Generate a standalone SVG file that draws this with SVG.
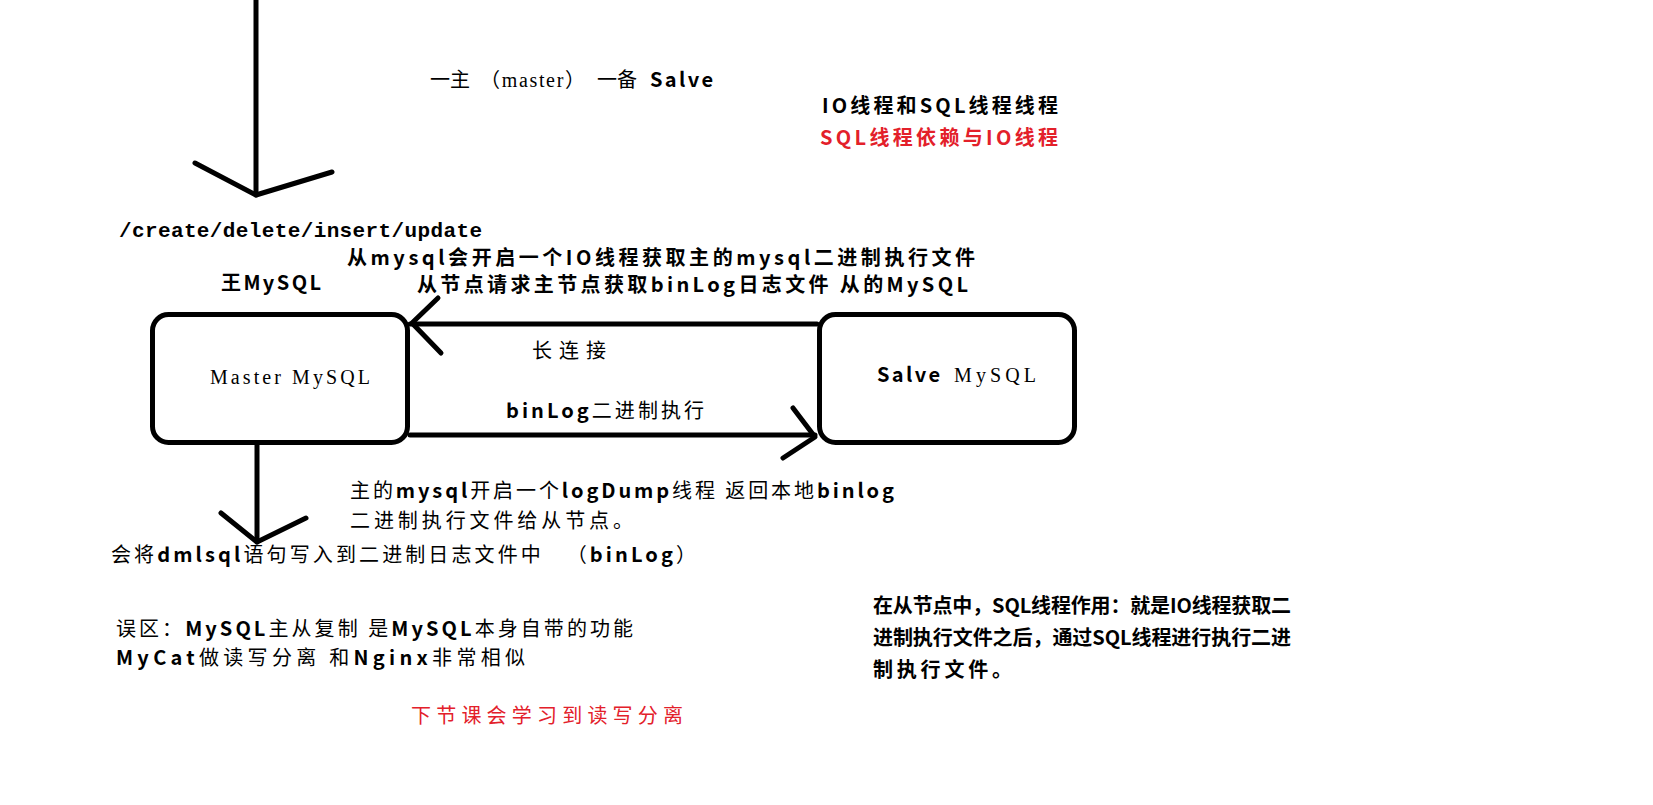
<svg xmlns="http://www.w3.org/2000/svg" width="1653" height="805" viewBox="0 0 1653 805">
<style>
  .ln { stroke:#000; stroke-width:5; fill:none; stroke-linecap:round; stroke-linejoin:round; }
  .box { stroke:#000; stroke-width:5; fill:#fff; }
  .t { font-family:"Noto Sans CJK SC","Liberation Sans",sans-serif; font-size:20px; fill:#000; }
  .b { font-weight:bold; }
  .red { fill:#e3202a; }
  .serif { font-family:"Liberation Serif","Noto Sans CJK SC",serif; font-weight:normal; }
  .mono { font-family:"Liberation Mono","Noto Sans CJK SC",monospace; font-weight:bold; font-size:21px; }
</style>
<rect x="0" y="0" width="1653" height="805" fill="#fff"/>

<g id="connectors">
  <!-- incoming top arrow -->
  <path class="ln" d="M256,0 L256,195"/>
  <path class="ln" d="M195,163 L256,195 L332,172"/>
  <!-- long connection: slave to master -->
  <path class="ln" d="M410,324 L817,324"/>
  <path class="ln" d="M438,298 L412,323 L441,353"/>
  <!-- binlog: master to slave -->
  <path class="ln" d="M410,435 L815,435"/>
  <path class="ln" d="M793,408 L815,437 L783,458"/>
  <!-- write to binlog -->
  <path class="ln" d="M257,445 L257,542"/>
  <path class="ln" d="M221,513 L257,542 L306,518"/>
</g>

<g id="master">
  <rect class="box" x="152.5" y="314.5" width="255" height="128" rx="16"/>
  <text class="t serif" x="210" y="384" font-size="23" textLength="160" lengthAdjust="spacing">Master MySQL</text>
</g>

<g id="salve">
  <rect class="box" x="819.5" y="314.5" width="255" height="128" rx="16"/>
  <text class="t b" x="877" y="382" font-family="Liberation Sans, sans-serif" textLength="63" lengthAdjust="spacing">Salve</text>
  <text class="t serif" x="954" y="382" font-size="22" textLength="82" lengthAdjust="spacing">MySQL</text>
</g>

<g id="labels">
  <text class="t" x="430" y="87" font-size="21">一主</text>
  <text class="t serif" x="480" y="87" font-size="22" textLength="105" lengthAdjust="spacing">（master）</text>
  <text class="t" x="597" y="87" font-size="21">一备</text>
  <text class="t b" x="650" y="87" font-family="Liberation Sans, sans-serif" textLength="63" lengthAdjust="spacing">Salve</text>

  <text class="t b" x="822" y="113" textLength="236" lengthAdjust="spacing">IO线程和SQL线程线程</text>
  <text class="t b red" x="820" y="145" textLength="238" lengthAdjust="spacing">SQL线程依赖与IO线程</text>

  <text class="t mono" x="119" y="237" textLength="363" lengthAdjust="spacing">/create/delete/insert/update</text>
  <text class="t b" x="347" y="265" textLength="628" lengthAdjust="spacing">从mysql会开启一个IO线程获取主的mysql二进制执行文件</text>
  <text class="t b" x="221" y="290" textLength="100" lengthAdjust="spacing">王MySQL</text>
  <text class="t b" x="417" y="292" textLength="551" lengthAdjust="spacing">从节点请求主节点获取binLog日志文件 从的MySQL</text>

  <text class="t" x="532" y="358" font-size="21" textLength="74" lengthAdjust="spacing">长连接</text>
  <text class="t" x="506" y="418" font-size="21" textLength="198" lengthAdjust="spacing"><tspan class="b">binLog</tspan>二进制执行</text>

  <text class="t" x="350" y="498" font-size="21" textLength="544" lengthAdjust="spacing">主的<tspan class="b">mysql</tspan>开启一个<tspan class="b">logDump</tspan>线程 返回本地<tspan class="b">binlog</tspan></text>
  <text class="t" x="350" y="528" font-size="21" textLength="283" lengthAdjust="spacing">二进制执行文件给从节点。</text>
  <text class="t" x="111" y="562" font-size="21" textLength="585" lengthAdjust="spacing">会将<tspan class="b">dmlsql</tspan>语句写入到二进制日志文件中&#160;&#160;&#160;（<tspan class="b">binLog</tspan>）</text>

  <text class="t" x="116" y="636" font-size="21" textLength="517" lengthAdjust="spacing">误区：<tspan class="b">MySQL</tspan>主从复制 是<tspan class="b">MySQL</tspan>本身自带的功能</text>
  <text class="t" x="116" y="665" font-size="21" textLength="409" lengthAdjust="spacing"><tspan class="b">MyCat</tspan>做读写分离 和<tspan class="b">Nginx</tspan>非常相似</text>
  <text class="t red" x="411" y="723" font-size="21" textLength="272" lengthAdjust="spacing">下节课会学习到读写分离</text>

  <text class="t b" x="873" y="613" textLength="418" lengthAdjust="spacing">在从节点中，SQL线程作用：就是IO线程获取二</text>
  <text class="t b" x="873" y="645" textLength="418" lengthAdjust="spacing">进制执行文件之后，通过SQL线程进行执行二进</text>
  <text class="t b" x="873" y="677" textLength="139" lengthAdjust="spacing">制执行文件。</text>
</g>
</svg>
